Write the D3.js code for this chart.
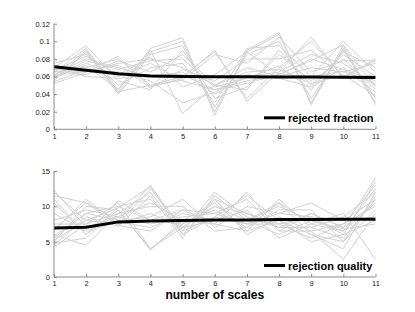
<!DOCTYPE html>
<head>
  <meta charset="utf-8">
  <style>
  body { margin: 0; background: #fff; }
  * { font-family: "Liberation Sans", Arial, sans-serif; }
  .trial { fill: none; stroke: #d2d2d2; stroke-width: 1px; }
  .mean { fill: none; stroke: #000; stroke-width: 3px; }
  .axis path, .axis line { stroke: #8a8a8a; }
  .axis text { fill: #222; font-size: 7.5px; }
  .legend text { font-size: 11px; font-weight: bold; }
  </style>
  <title>rejection vs number of scales</title>
</head>
<body>
  <svg width="415" height="312"></svg>
  <script src="https://d3js.org/d3.v7.min.js"></script>
  <script>
  var scales = [1, 2, 3, 4, 5, 6, 7, 8, 9, 10, 11];

  // mean curves (black)
  var fractionMean = [0.071, 0.067, 0.063, 0.0605, 0.060, 0.0598, 0.0596, 0.0595, 0.0593, 0.0592, 0.059];
  var qualityMean = [6.95, 7.05, 7.8, 7.92, 8.0, 8.05, 8.08, 8.12, 8.15, 8.17, 8.18];

  // individual runs (grey)
  var fractionRuns = [
    [.060,.090,.042,.088,.100,.020,.088,.108,.030,.095,.030],
    [.065,.092,.045,.092,.104,.016,.090,.110,.028,.092,.028],
    [.055,.088,.040,.085,.095,.025,.085,.100,.035,.090,.035],
    [.072,.070,.080,.050,.060,.088,.035,.070,.100,.060,.078],
    [.068,.065,.083,.048,.058,.090,.032,.065,.105,.058,.080],
    [.058,.075,.060,.075,.055,.045,.055,.062,.080,.068,.055],
    [.062,.080,.070,.060,.065,.040,.060,.065,.085,.075,.050],
    [.052,.065,.075,.080,.070,.050,.045,.090,.050,.085,.060],
    [.070,.095,.055,.045,.090,.035,.048,.085,.055,.080,.045],
    [.066,.062,.078,.065,.085,.050,.070,.060,.070,.065,.075],
    [.075,.085,.050,.070,.075,.030,.092,.095,.060,.100,.065],
    [.054,.068,.065,.055,.030,.042,.062,.058,.048,.070,.042],
    [.063,.072,.045,.090,.018,.050,.065,.068,.052,.062,.038],
    [.059,.078,.068,.078,.080,.048,.058,.072,.045,.088,.070],
    [.071,.060,.058,.062,.062,.045,.052,.063,.060,.066,.052],
    [.057,.088,.043,.050,.056,.085,.075,.105,.065,.078,.078],
    [.061,.066,.073,.047,.068,.055,.080,.080,.090,.058,.062],
    [.067,.083,.062,.082,.048,.062,.088,.062,.078,.096,.048]
  ];

  var qualityRuns = [
    [12.0,8.0,7.5,12.5,7.0,11.0,9.0,7.5,8.5,6.0,13.5],
    [11.5,10.5,8.0,13.0,6.5,12.0,8.5,7.0,9.0,7.0,14.0],
    [4.2,7.5,10.5,4.0,7.5,9.5,7.0,10.5,7.5,6.5,10.5],
    [5.0,10.0,9.5,3.8,8.0,10.5,6.5,11.0,7.0,5.5,11.0],
    [6.0,4.5,9.0,12.0,6.0,8.5,11.5,8.0,6.0,4.0,12.0],
    [10.5,6.0,10.8,8.0,9.5,7.5,12.0,6.5,6.5,2.5,9.0],
    [5.5,9.0,8.0,8.5,11.0,7.0,10.0,9.0,10.5,8.0,8.5],
    [4.5,8.5,7.2,11.5,5.5,11.5,8.0,6.0,8.0,6.5,12.5],
    [12.3,7.0,8.5,7.5,8.5,9.0,7.5,7.5,5.5,7.5,10.0],
    [6.5,11.0,7.5,9.0,7.0,8.0,9.5,5.5,7.5,9.0,2.5],
    [7.5,7.5,9.0,10.0,10.0,6.5,7.0,9.5,9.5,5.0,11.5],
    [5.2,8.0,9.8,12.8,6.0,11.0,6.0,8.5,6.5,7.5,13.0],
    [9.0,6.5,7.8,7.0,9.0,8.0,8.0,10.0,8.0,6.8,7.5],
    [4.8,5.5,10.0,8.0,7.5,10.0,9.0,7.0,7.0,8.5,12.0],
    [8.0,9.5,8.5,10.5,8.0,7.5,6.5,8.0,5.0,6.0,8.0],
    [6.8,10.5,7.3,6.5,9.5,9.0,11.0,6.5,9.0,7.0,10.5],
    [11.0,6.0,9.5,4.0,7.0,10.0,8.0,10.5,6.0,5.0,9.5],
    [5.8,9.0,10.0,11.0,6.5,8.5,7.5,9.0,8.5,8.0,11.0]
  ];

  var fractionTicks = [0, 0.02, 0.04, 0.06, 0.08, 0.1, 0.12];
  var qualityTicks = [0, 5, 10, 15];

  var svg = d3.select("svg");

  var x = d3.scaleLinear().domain([1, 11]).range([54, 375.5]);

  function panel(top, bottom, yMax, ticks, runs, mean, label) {
    var y = d3.scaleLinear().domain([0, yMax]).range([bottom, top]);
    var g = svg.append("g");

    var line = d3.line()
        .x(function(d, i) { return x(scales[i]); })
        .y(function(d) { return y(d); });

    g.selectAll(".trial")
      .data(runs)
      .enter().append("path")
        .attr("class", "trial")
        .attr("d", line);

    g.append("path")
        .attr("class", "mean")
        .attr("d", line(mean));

    // matlab style axes: ticks pointing inward
    g.append("g")
        .attr("class", "axis")
        .attr("transform", "translate(0," + bottom + ")")
        .call(d3.axisBottom(x).tickValues(scales).tickSize(-3).tickPadding(4)
          .tickFormat(d3.format("d")))
        .call(function(a) { a.select(".domain").attr("d", "M" + x(1) + ",0H" + x(11)); });

    g.append("g")
        .attr("class", "axis")
        .attr("transform", "translate(" + x(1) + ",0)")
        .call(d3.axisLeft(y).tickValues(ticks).tickSize(-3).tickPadding(4)
          .tickFormat(function(d) { return String(d); }))
        .call(function(a) { a.select(".domain").attr("d", "M0," + bottom + "V" + top); });

    var leg = g.append("g").attr("class", "legend");
    leg.append("line")
        .attr("x1", 264).attr("x2", 285)
        .attr("y1", bottom - 11.5).attr("y2", bottom - 11.5)
        .attr("stroke", "#000").attr("stroke-width", 3);
    leg.append("text")
        .attr("x", 288).attr("y", bottom - 7.5)
        .text(label);
  }

  panel(23.7, 129.3, 0.12, fractionTicks, fractionRuns, fractionMean, "rejected fraction");
  panel(171, 277, 15, qualityTicks, qualityRuns, qualityMean, "rejection quality");

  svg.append("text")
      .attr("x", (x(1) + x(11)) / 2)
      .attr("y", 299)
      .attr("text-anchor", "middle")
      .style("font-size", "12px")
      .style("font-weight", "bold")
      .text("number of scales");
  </script>
</body>
